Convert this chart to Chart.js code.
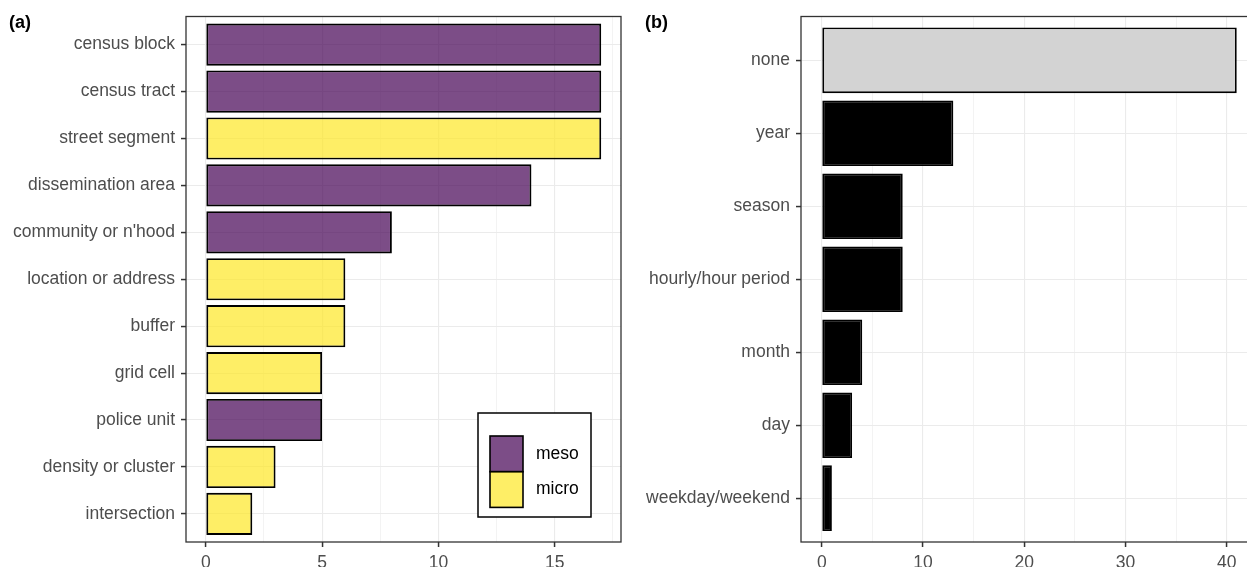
<!DOCTYPE html>
<html>
<head>
<meta charset="utf-8">
<script src="https://cdn.jsdelivr.net/npm/chart.js@4/dist/chart.umd.min.js"></script>
<style>
  html, body { margin: 0; padding: 0; background: #fff; overflow: hidden; width: 1247px; height: 567px; }
  .panel { position: absolute; top: 0; height: 567px; }
  #panelA { left: 0; width: 627px; }
  #panelB { left: 630px; width: 640px; }
</style>
</head>
<body>
<div class="panel" id="panelA"><canvas id="chartA" width="627" height="567"></canvas></div>
<div class="panel" id="panelB"><canvas id="chartB" width="640" height="567"></canvas></div>
<script>
// (a) spatial unit of analysis, grouped by scale
const unitLabels = ['census block', 'census tract', 'street segment', 'dissemination area',
  "community or n'hood", 'location or address', 'buffer', 'grid cell', 'police unit',
  'density or cluster', 'intersection'];
const unitCounts = [17, 17, 17, 14, 8, 6, 6, 5, 5, 3, 2];
const unitScale  = ['meso', 'meso', 'micro', 'meso', 'meso', 'micro', 'micro', 'micro', 'meso', 'micro', 'micro'];
const scaleGroups = ['meso', 'micro'];
const countTicksA = [0, 5, 10, 15];

// (b) temporal unit of analysis
const timeLabels = ['none', 'year', 'season', 'hourly/hour period', 'month', 'day', 'weekday/weekend'];
const timeCounts = [41, 13, 8, 8, 4, 3, 1];
const countTicksB = [0, 10, 20, 30, 40];

const FONT = "'Liberation Sans', Arial, Helvetica, sans-serif";
const AXIS_TEXT = '#4d4d4d';
const GRID = '#ebebeb';
const FRAME = '#333333';
const GROUP_FILL = { meso: 'rgba(68, 1, 84, 0.7)', micro: 'rgba(253, 231, 37, 0.7)' };

// 5% padding on the continuous axis, 0.6 of a band on the discrete one
function expandRange(values) {
  const hi = Math.max(0, ...values), lo = Math.min(0, ...values);
  const pad = (hi - lo) * 0.05;
  return [lo - pad, hi + pad];
}

// box around the plotting panel + panel tag
const panelFrame = {
  id: 'panelFrame',
  afterDatasetsDraw(chart, args, opts) {
    const { ctx, chartArea: a } = chart;
    ctx.save();
    ctx.strokeStyle = FRAME;
    ctx.lineWidth = 1.3;
    ctx.strokeRect(a.left, a.top, a.right - a.left, a.bottom - a.top);
    ctx.fillStyle = '#000';
    ctx.font = 'bold 18px ' + FONT;
    ctx.textBaseline = 'middle';
    ctx.textAlign = 'left';
    ctx.fillText(opts.text, opts.x, 23);
    ctx.restore();
  }
};

// boxed fill legend inside the panel
const boxLegend = {
  id: 'boxLegend',
  afterDraw(chart) {
    const { ctx, chartArea: a } = chart;
    const sets = chart.data.datasets;
    const w = 113, h = 104, keyW = 33, keyH = 35.7;
    const x0 = a.right - 30 - w, y0 = a.bottom - 25 - h;
    ctx.save();
    ctx.fillStyle = '#fff';
    ctx.fillRect(x0, y0, w, h);
    ctx.strokeStyle = '#000';
    ctx.lineWidth = 1.5;
    ctx.strokeRect(x0, y0, w, h);
    ctx.font = '17.5px ' + FONT;
    ctx.textBaseline = 'middle';
    ctx.textAlign = 'left';
    sets.forEach((ds, i) => {
      const kx = x0 + 12, ky = y0 + 23 + i * keyH;
      ctx.fillStyle = ds.backgroundColor;
      ctx.fillRect(kx, ky, keyW, keyH);
      ctx.strokeStyle = '#000';
      ctx.lineWidth = 1.6;
      ctx.strokeRect(kx, ky, keyW, keyH);
      ctx.fillStyle = '#000';
      ctx.fillText(ds.label, kx + keyW + 13, ky + keyH / 2);
    });
    ctx.restore();
  }
};

function panelOptions(labels, values, majorTicks, minorStep, axisWidth, padRight, tag, tagX) {
  const [xmin, xmax] = expandRange(values);
  const tickFont = { family: FONT, size: 17.5 };
  return {
    responsive: false,
    animation: false,
    indexAxis: 'y',
    layout: { padding: { top: 16, right: padRight, left: 0, bottom: 0 } },
    plugins: {
      legend: { display: false },
      tooltip: { enabled: false },
      panelFrame: { text: tag, x: tagX }
    },
    scales: {
      x: {
        type: 'linear', min: xmin, max: xmax, offset: false,
        ticks: {
          stepSize: minorStep, includeBounds: false, maxTicksLimit: 1000, autoSkip: false,
          maxRotation: 0, color: AXIS_TEXT, font: tickFont, padding: 6,
          callback: (v) => majorTicks.includes(v) ? String(v) : ''
        },
        grid: {
          offset: false,
          color: GRID,
          lineWidth: (c) => majorTicks.includes(c.tick && c.tick.value) ? 1.1 : 0.6,
          tickLength: 5,
          tickWidth: 1.5,
          tickColor: (c) => majorTicks.includes(c.tick && c.tick.value) ? FRAME : 'rgba(0,0,0,0)'
        },
        border: { display: false },
        afterFit: (s) => { s.height = 25; }
      },
      y: {
        type: 'linear', reverse: true, min: -0.6, max: labels.length - 1 + 0.6, offset: false,
        ticks: {
          stepSize: 1, includeBounds: false, maxTicksLimit: 1000, autoSkip: false,
          color: AXIS_TEXT, font: tickFont, padding: 6,
          callback: (v) => labels[v] !== undefined ? labels[v] : ''
        },
        grid: { offset: false, color: GRID, lineWidth: 1.1, tickLength: 5, tickWidth: 1.5, tickColor: FRAME },
        border: { display: false },
        afterFit: (s) => { s.width = axisWidth; }
      }
    }
  };
}

const barStyle = {
  borderColor: '#000', borderWidth: 1.9, borderSkipped: false,
  barPercentage: 0.9, categoryPercentage: 1, grouped: false
};

new Chart(document.getElementById('chartA'), {
  type: 'bar',
  data: {
    datasets: scaleGroups.map((g) => Object.assign({
      label: g,
      data: unitLabels.map((l, i) => ({ x: unitCounts[i], y: i })).filter((d, i) => unitScale[i] === g),
      backgroundColor: GROUP_FILL[g]
    }, barStyle))
  },
  options: panelOptions(unitLabels, unitCounts, countTicksA, 2.5, 186, 6, '(a)', 9),
  plugins: [panelFrame, boxLegend]
});

new Chart(document.getElementById('chartB'), {
  type: 'bar',
  data: {
    datasets: [Object.assign({
      label: 'studies',
      data: timeLabels.map((l, i) => ({ x: timeCounts[i], y: i })),
      backgroundColor: timeLabels.map((l) => l === 'none' ? '#d3d3d3' : '#000')
    }, barStyle)]
  },
  options: panelOptions(timeLabels, timeCounts, countTicksB, 5, 171, 12.5, '(b)', 15),
  plugins: [panelFrame]
});
</script>
</body>
</html>
